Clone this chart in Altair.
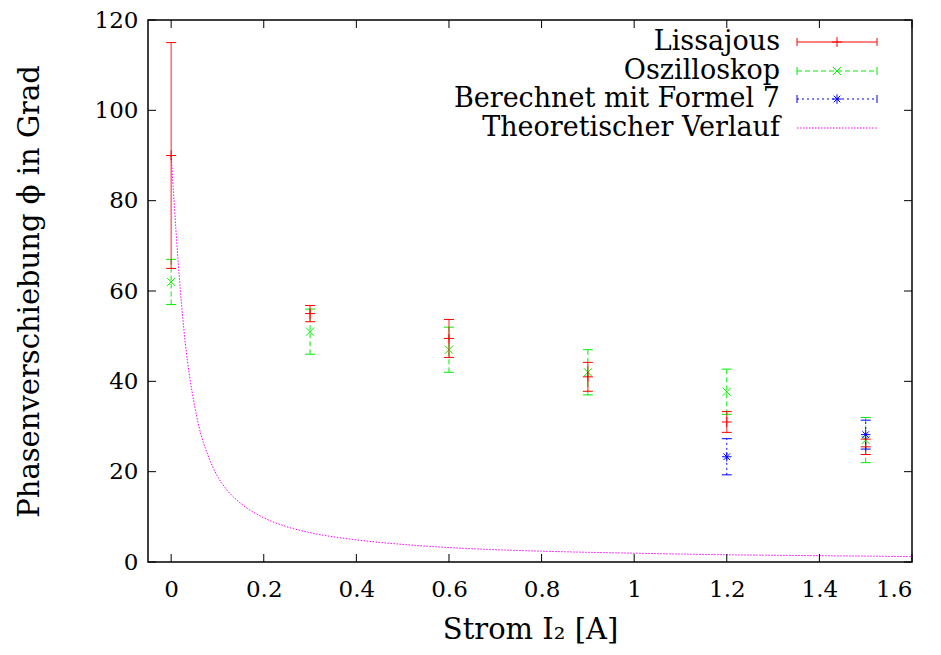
import altair as alt
import pandas as pd

# ---------------- data ----------------
x_meas = [0.0, 0.3, 0.6, 0.9, 1.2, 1.5]
liss_y = [90.0, 55.0, 49.5, 41.0, 31.0, 25.5]
liss_err = [25.0, 1.8, 4.2, 3.2, 2.3, 1.7]
osz_y = [62.0, 51.0, 47.0, 42.0, 37.7, 27.0]
osz_err = [5.0, 5.0, 5.0, 5.0, 5.0, 5.0]
ber_x = [1.2, 1.5]
ber_y = [23.3, 28.2]
ber_err = [4.0, 3.2]

theo_x = [0.0, 0.005, 0.01, 0.02, 0.03, 0.04, 0.05, 0.06, 0.08, 0.1, 0.12, 0.15,
          0.2, 0.25, 0.3, 0.4, 0.5, 0.6, 0.8, 1.0, 1.2, 1.4, 1.6]
theo_y = [90.0, 82.0, 74.0, 60.0, 49.0, 41.0, 35.0, 30.0, 23.5, 19.0, 16.0, 13.0,
          9.8, 7.8, 6.5, 4.9, 3.9, 3.2, 2.4, 1.95, 1.6, 1.4, 1.2]

x_ticks = [0, 0.2, 0.4, 0.6, 0.8, 1.0, 1.2, 1.4, 1.6]
y_ticks = [0, 20, 40, 60, 80, 100, 120]

legend_labels = ["Lissajous", "Oszilloskop", "Berechnet mit Formel 7", "Theoretischer Verlauf"]

# ---------------- style ----------------
W, H = 764, 542
FONT = "DejaVu Serif"
RED, GREEN, BLUE, MAG = "#ff0000", "#00ee00", "#0000ff", "#ff00ff"
PLUS = "M-1,0L1,0M0,-1L0,1"
XSYM = "M-1,-1L1,1M-1,1L1,-1"
STAR = "M-1,0L1,0M0,-1L0,1M-0.7,-0.7L0.7,0.7M-0.7,0.7L0.7,-0.7"
HCAP = "M-1,0L1,0"
VCAP = "M0,-1L0,1"

xs = alt.Scale(domain=[-0.05, 1.6], nice=False, zero=False)
ys = alt.Scale(domain=[0, 120], nice=False, zero=True)
xaxis = alt.Axis(values=x_ticks, format="~g", title="Strom I₂ [A]", grid=False,
                 ticks=False, domain=False, labelPadding=16, titlePadding=14)
yaxis = alt.Axis(values=y_ticks, format="d", title="Phasenverschiebung ϕ in Grad",
                 grid=False, ticks=False, domain=False, labelPadding=10, titlePadding=50)


def X(f):
    return alt.X(f, type="quantitative", scale=xs, axis=xaxis)


def Y(f):
    return alt.Y(f, type="quantitative", scale=ys, axis=yaxis)


def df_err(xv, yv, ev):
    return pd.DataFrame({"x": xv, "y": yv,
                         "lo": [a - b for a, b in zip(yv, ev)],
                         "hi": [a + b for a, b in zip(yv, ev)]})


d_l = df_err(x_meas, liss_y, liss_err)
d_o = df_err(x_meas, osz_y, osz_err)
d_b = df_err(ber_x, ber_y, ber_err)
d_t = pd.DataFrame({"x": theo_x, "y": theo_y})

layers = []

# theoretical curve
layers.append(alt.Chart(d_t).mark_line(color=MAG, strokeWidth=1, strokeDash=[1.5, 1.5], clip=True,
                                       interpolate="monotone")
              .encode(x=X("x"), y=Y("y")))


def errbar(d, color, dash, sym, symsize):
    out = []
    out.append(alt.Chart(d).mark_rule(color=color, strokeWidth=1, strokeDash=dash)
               .encode(x=X("x"), y=Y("lo"), y2="hi"))
    for f in ["lo", "hi"]:
        out.append(alt.Chart(d).mark_point(shape=HCAP, size=100, color=color, filled=False, strokeWidth=1, opacity=1)
                   .encode(x=X("x"), y=Y(f)))
    out.append(alt.Chart(d).mark_point(shape=sym, size=symsize, color=color, filled=False, strokeWidth=1, opacity=1)
               .encode(x=X("x"), y=Y("y")))
    return out


layers += errbar(d_o, GREEN, [5, 3], XSYM, 64)
layers += errbar(d_l, RED, [1, 0], PLUS, 100)
layers += errbar(d_b, BLUE, [2, 3], STAR, 90)

# inward ticks
dxt = pd.DataFrame({"x": x_ticks})
dyt = pd.DataFrame({"y": y_ticks})
for a, b in [(H, H - 8), (0, 8)]:
    layers.append(alt.Chart(dxt).mark_rule(color="black", strokeWidth=1)
                  .encode(x=X("x"), y=alt.value(a), y2=alt.value(b)))
for a, b in [(0, 8), (W, W - 8)]:
    layers.append(alt.Chart(dyt).mark_rule(color="black", strokeWidth=1)
                  .encode(y=Y("y"), x=alt.value(a), x2=alt.value(b)))

# legend
rows = [22, 51, 79, 108]
styles = [(RED, [1, 0], PLUS, 100, True), (GREEN, [5, 3], XSYM, 64, True),
          (BLUE, [2, 3], STAR, 90, True), (MAG, [1.5, 1.5], None, 0, False)]
for lab, ry, (col, dash, sym, ss, caps) in zip(legend_labels, rows, styles):
    dl = pd.DataFrame({"label": [lab]})
    layers.append(alt.Chart(dl).mark_text(font=FONT, fontSize=27, align="right", baseline="middle", color="black")
                  .encode(text="label:N", x=alt.value(632), y=alt.value(ry)))
    layers.append(alt.Chart(dl).mark_rule(color=col, strokeWidth=1, strokeDash=dash)
                  .encode(x=alt.value(649), x2=alt.value(729), y=alt.value(ry)))
    if caps:
        for cx in [649, 729]:
            layers.append(alt.Chart(dl).mark_point(shape=VCAP, size=64, color=col, filled=False, strokeWidth=1, opacity=1)
                          .encode(x=alt.value(cx), y=alt.value(ry)))
        layers.append(alt.Chart(dl).mark_point(shape=sym, size=ss, color=col, filled=False, strokeWidth=1, opacity=1)
                      .encode(x=alt.value(689), y=alt.value(ry)))

chart = alt.layer(*layers).properties(
    width=W, height=H,
    autosize=alt.AutoSizeParams(type="none"),
    padding={"left": 140, "top": 12, "right": 20, "bottom": 85},
    background="white",
).configure_view(stroke="black", strokeWidth=1.5).configure_axis(
    labelFont=FONT, labelFontSize=23, labelColor="black",
    titleFont=FONT, titleFontSize=29, titleFontWeight="normal", titleColor="black",
)

chart.save("out.html", embed_options={"renderer": "svg", "actions": False})
